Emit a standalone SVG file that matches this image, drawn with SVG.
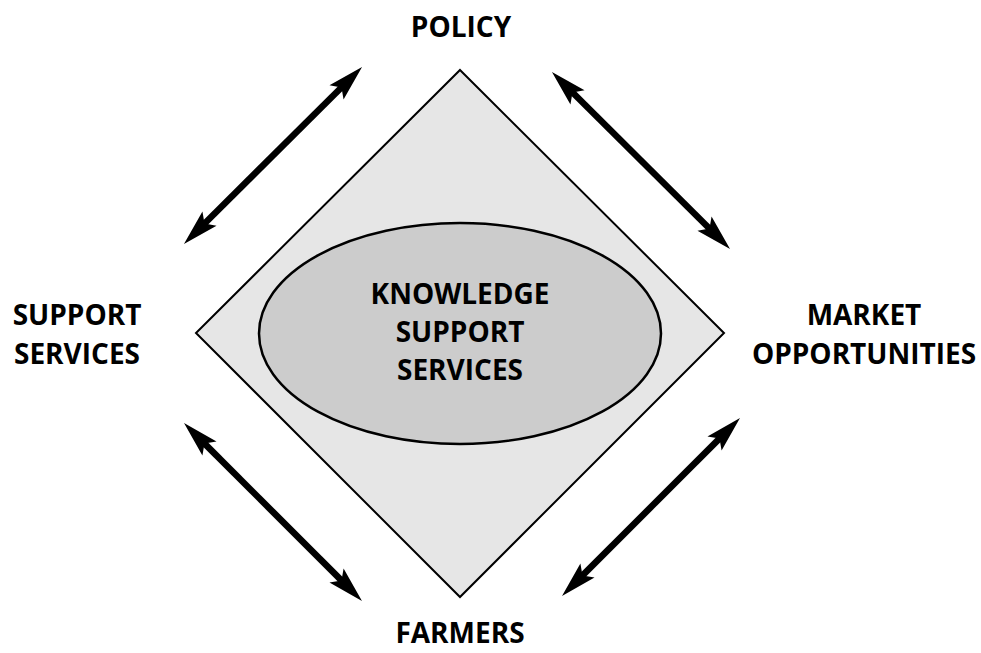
<svg xmlns="http://www.w3.org/2000/svg" width="981" height="653" viewBox="0 0 981 653">
  <style>
    .label { font-family: "Open Sans", "Liberation Sans", sans-serif; font-weight: 700; font-size: 28px; fill: #000; text-anchor: middle; }
    .link { stroke: #000; stroke-width: 6.5; fill: none; marker-start: url(#head); marker-end: url(#head); }
  </style>
  <defs>
    <marker id="head" markerUnits="userSpaceOnUse" markerWidth="44" markerHeight="24" viewBox="-40 -12 44 24" refX="-27" refY="0" orient="auto-start-reverse">
      <path d="M0,0 L-36,-10 L-29,0 L-36,10 Z" fill="#000"/>
    </marker>
  </defs>
  <rect width="981" height="653" fill="#fff"/>

  <!-- central diamond with the knowledge hub -->
  <g id="diamond">
    <polygon points="460,70 724,333 460,597 196,333" fill="#e6e6e6" stroke="#000" stroke-width="2"/>
  </g>
  <g id="knowledge">
    <ellipse cx="460" cy="333.5" rx="201" ry="110.5" fill="#cccccc" stroke="#000" stroke-width="2.5"/>
    <text class="label" x="460" y="304">KNOWLEDGE</text>
    <text class="label" x="460" y="342">SUPPORT</text>
    <text class="label" x="460" y="380">SERVICES</text>
  </g>

  <!-- outer actors -->
  <g id="policy">
    <text class="label" x="461" y="37">POLICY</text>
  </g>
  <g id="support-services">
    <text class="label" x="77" y="325">SUPPORT</text>
    <text class="label" x="77" y="364">SERVICES</text>
  </g>
  <g id="market">
    <text class="label" x="864" y="325">MARKET</text>
    <text class="label" x="864" y="364">OPPORTUNITIES</text>
  </g>
  <g id="farmers">
    <text class="label" x="460" y="643">FARMERS</text>
  </g>

  <!-- two-way links between actors -->
  <g id="connectors">
    <line class="link" x1="203.1" y1="225" x2="342.9" y2="86"/>
    <line class="link" x1="571.1" y1="91" x2="710.9" y2="230"/>
    <line class="link" x1="203.1" y1="442.1" x2="342.9" y2="581.9"/>
    <line class="link" x1="720.9" y1="437.1" x2="581.1" y2="576.9"/>
  </g>
</svg>
